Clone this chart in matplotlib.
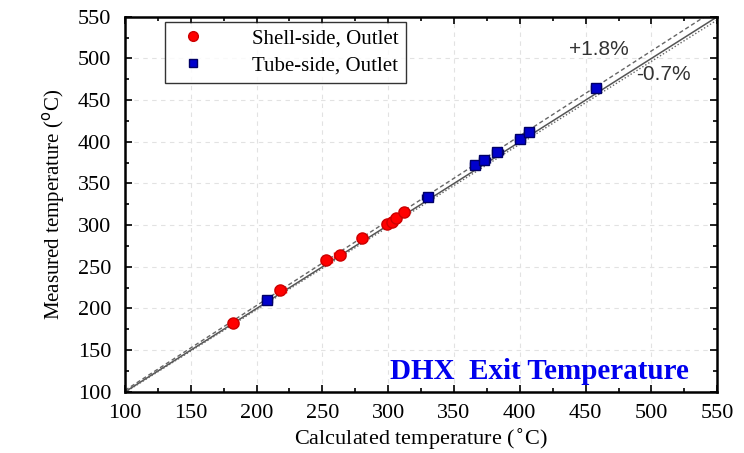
import matplotlib.pyplot as plt
import numpy as np
from matplotlib.ticker import MultipleLocator
from matplotlib.lines import Line2D

# calculated vs measured exit temperatures (deg C)
shell_calc = [182, 218, 253, 263, 280, 299, 303, 306, 312]
shell_meas = [183, 222, 258, 264, 285, 301, 304, 308, 316]
tube_calc = [208, 330, 366, 373, 383, 400, 407, 458]
tube_meas = [210, 334, 372, 378, 388, 403, 412, 464]

line_x = [100, 550]
upper_pct = 1.8
lower_pct = -0.7

plt.rcParams['font.family'] = ['Liberation Serif', 'DejaVu Serif']

fig = plt.figure(figsize=(7.44, 4.53), dpi=100)
ax = fig.add_axes([0.168, 0.135, 0.796, 0.828])

x = np.array(line_x, dtype=float)
ax.plot(x, x, color='#555555', lw=1.1, zorder=2)
ax.plot(x, x * (1 + upper_pct / 100), color='#666666', lw=1.0, ls=(0, (3, 2)), zorder=2)
ax.plot(x, x * (1 + lower_pct / 100), color='#666666', lw=1.0, ls=(0, (1, 1.5)), zorder=2)

ax.errorbar(shell_calc, shell_meas, xerr=4, fmt='o', color='red', ms=8,
            mec='#cc0000', ecolor='red', elinewidth=1, capsize=2, zorder=3)
ax.errorbar(tube_calc, tube_meas, xerr=4, fmt='s', color='#0000cc', ms=7,
            mec='#000066', ecolor='#000066', elinewidth=1, capsize=2, zorder=3)

ax.set_xlim(100, 550)
ax.set_ylim(100, 550)
ax.xaxis.set_major_locator(MultipleLocator(50))
ax.yaxis.set_major_locator(MultipleLocator(50))
ax.xaxis.set_minor_locator(MultipleLocator(25))
ax.yaxis.set_minor_locator(MultipleLocator(25))
ax.tick_params(which='both', direction='in', top=True, right=True, labelsize=16, width=1.2)
ax.tick_params(which='major', length=5)
ax.tick_params(which='minor', length=3)
ax.tick_params(axis='y', pad=10)
ax.tick_params(axis='x', pad=9)
for s in ax.spines.values():
    s.set_linewidth(1.8)

ax.grid(True, color='#e2e2e2', ls=(0, (4, 4)), lw=0.8, zorder=0)

ax.set_xlabel('Calculated temperature ($^{\\circ}$C)', fontsize=16, labelpad=2)
ax.set_ylabel('Measured temperature ($^{\\mathrm{o}}$C)', fontsize=15, labelpad=8)

ax.text(0.80, 0.912, '+1.8%', transform=ax.transAxes, fontsize=15,
        family='Liberation Sans', color='#333333', ha='center', va='center')
ax.text(0.91, 0.845, '-0.7%', transform=ax.transAxes, fontsize=15,
        family='Liberation Sans', color='#333333', ha='center', va='center')
ax.text(0.70, 0.053, 'DHX  Exit Temperature', transform=ax.transAxes, fontsize=21,
        fontweight='bold', color='#0000ee', ha='center', va='center')

handles = [
    Line2D([], [], marker='o', ls='none', color='red', mec='#cc0000', ms=7),
    Line2D([], [], marker='s', ls='none', color='#0000cc', mec='#000066', ms=6),
]
labels = ['Shell-side, Outlet', 'Tube-side, Outlet']
leg = ax.legend(handles, labels, loc='upper left', bbox_to_anchor=(0.068, 0.987),
                fontsize=15, frameon=True, fancybox=False, edgecolor='black',
                handletextpad=1.8, borderpad=0.35, labelspacing=0.35,
                handlelength=2.0, borderaxespad=0)
leg.get_frame().set_linewidth(1.0)

fig.savefig('out.png', dpi=100)
